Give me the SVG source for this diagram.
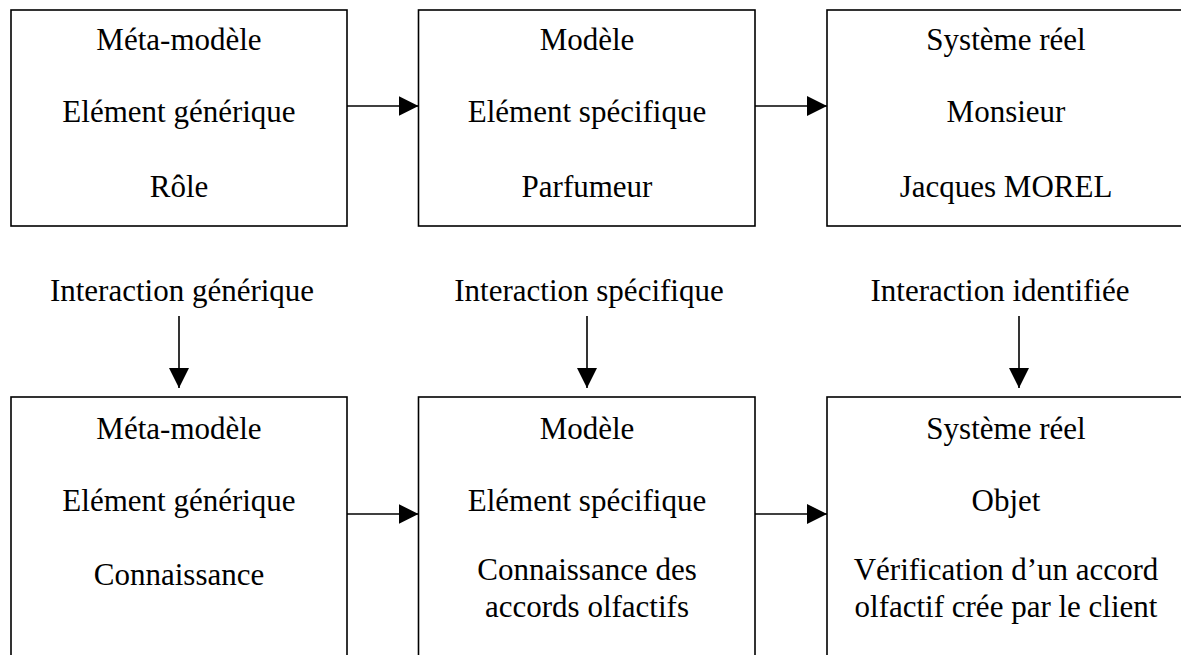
<svg xmlns="http://www.w3.org/2000/svg" width="1181" height="655" viewBox="0 0 1181 655">
<defs>
<marker id="ah" markerWidth="20" markerHeight="20" refX="20" refY="10" orient="auto" markerUnits="userSpaceOnUse">
<path d="M0,0 L20,10 L0,20 Z" fill="#000"/>
</marker>
<style>
.box{fill:#fff;stroke:#000;stroke-width:1.6}
.c{stroke:#000;stroke-width:1.6;fill:none}
</style>
</defs>
<rect width="1181" height="655" fill="#fff"/>
<g font-family="Liberation Serif, Times New Roman, serif" font-size="31" fill="#000" text-anchor="middle">
<g id="n1"><rect class="box" x="11" y="10" width="336" height="216"/>
<text x="179" y="50">Méta-modèle</text>
<text x="179" y="122">Elément générique</text>
<text x="179" y="197">Rôle</text></g>
<g id="n2"><rect class="box" x="418.5" y="10" width="336.5" height="216"/>
<text x="587" y="50">Modèle</text>
<text x="587" y="122">Elément spécifique</text>
<text x="587" y="197">Parfumeur</text></g>
<g id="n3"><rect class="box" x="827" y="10" width="370" height="216"/>
<text x="1006" y="50">Système réel</text>
<text x="1006" y="122">Monsieur</text>
<text x="1006" y="197">Jacques MOREL</text></g>
<g id="l1"><text x="182" y="301">Interaction générique</text></g>
<g id="l2"><text x="589" y="301">Interaction spécifique</text></g>
<g id="l3"><text x="1000" y="301">Interaction identifiée</text></g>
<g id="n4"><rect class="box" x="11" y="397" width="336" height="280"/>
<text x="179" y="439">Méta-modèle</text>
<text x="179" y="511">Elément générique</text>
<text x="179" y="585">Connaissance</text></g>
<g id="n5"><rect class="box" x="418.5" y="397" width="336.5" height="280"/>
<text x="587" y="439">Modèle</text>
<text x="587" y="511">Elément spécifique</text>
<text x="587" y="580">Connaissance des</text>
<text x="587" y="617">accords olfactifs</text></g>
<g id="n6"><rect class="box" x="827" y="397" width="370" height="280"/>
<text x="1006" y="439">Système réel</text>
<text x="1006" y="511">Objet</text>
<text x="1006" y="580">Vérification d’un accord</text>
<text x="1006" y="617">olfactif crée par le client</text></g>
</g>
<g id="connectors">
<line class="c" x1="347" y1="106" x2="418.5" y2="106" marker-end="url(#ah)"/>
<line class="c" x1="755" y1="106" x2="827" y2="106" marker-end="url(#ah)"/>
<line class="c" x1="179" y1="316" x2="179" y2="388" marker-end="url(#ah)"/>
<line class="c" x1="587" y1="316" x2="587" y2="388" marker-end="url(#ah)"/>
<line class="c" x1="1019" y1="316" x2="1019" y2="388" marker-end="url(#ah)"/>
<line class="c" x1="347" y1="514" x2="418.5" y2="514" marker-end="url(#ah)"/>
<line class="c" x1="755" y1="514" x2="827" y2="514" marker-end="url(#ah)"/>
</g>
</svg>
